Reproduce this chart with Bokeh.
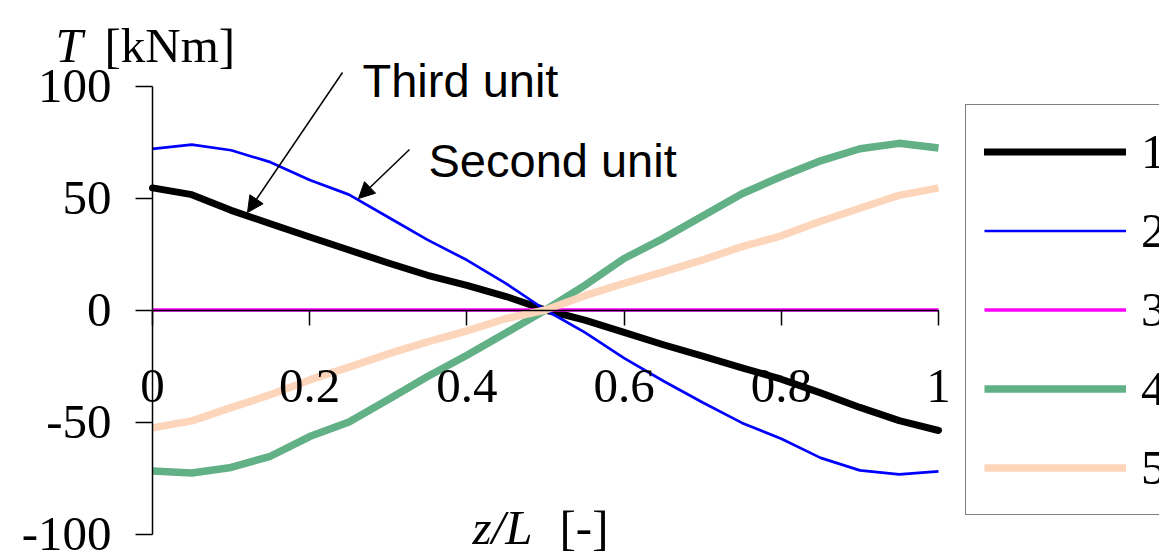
from bokeh.plotting import figure
from bokeh.models import (Range1d, FixedTicker, Legend, LegendItem, Label,
                          Arrow, NormalHead)
from bokeh.embed import file_html
from bokeh.resources import INLINE

# Torque distribution along the member, five load cases
z_over_L = [0.00, 0.05, 0.10, 0.15, 0.20, 0.25, 0.30, 0.35, 0.40, 0.45, 0.50,
            0.55, 0.60, 0.65, 0.70, 0.75, 0.80, 0.85, 0.90, 0.95, 1.00]

case_1 = [54.5, 51.5, 44.5, 38.5, 32.6, 26.8, 21.0, 15.5, 11.0, 6.0, 0.0,
          -4.5, -10.0, -15.5, -20.6, -25.8, -30.9, -37.0, -43.5, -49.4, -53.8]
case_2 = [71.9, 73.8, 71.3, 66.0, 58.0, 51.5, 41.4, 31.3, 22.3, 11.8, 0.0,
          -10.0, -21.5, -31.7, -41.3, -50.4, -57.5, -66.0, -71.6, -73.4, -72.0]
case_3 = [0.0] * 21
case_4 = [-71.9, -72.8, -70.3, -65.3, -56.5, -50.0, -40.0, -29.7, -20.2, -10.2, 0.0,
          11.0, 23.0, 32.0, 42.0, 51.9, 59.6, 66.6, 72.0, 74.4, 72.3]
case_5 = [-52.6, -49.5, -43.6, -37.8, -31.2, -25.5, -19.6, -14.2, -9.3, -3.8, 0.0,
          6.4, 11.9, 17.0, 22.4, 28.3, 33.1, 39.6, 45.4, 51.2, 54.5]

case_labels = ["1", "2", "3", "4", "5"]

x_ticks = [0.0, 0.2, 0.4, 0.6, 0.8, 1.0]
x_tick_labels = ["0", "0.2", "0.4", "0.6", "0.8", "1"]
y_ticks = [-100, -50, 0, 50, 100]
y_tick_labels = ["-100", "-50", "0", "50", "100"]

# ---- canvas geometry (pixels) ----
W, H = 1159, 552
ORIGIN_X = 152.0      # pixel column of z/L = 0
PX_PER_X = 786.0      # pixels per unit of z/L
ORIGIN_Y = 309.5      # pixel row of T = 0
PX_PER_Y = 2.24       # pixels per kNm


def dx(px):
    return (px - ORIGIN_X) / PX_PER_X


def dy(py):
    return (ORIGIN_Y - py) / PX_PER_Y


SERIF = "Liberation Serif"
SANS = "Liberation Sans"

p = figure(width=W, height=H, output_backend="svg", toolbar_location=None,
           x_range=Range1d(dx(0), dx(W)), y_range=Range1d(dy(H), dy(0)),
           min_border=0)
p.outline_line_color = None
p.background_fill_color = "white"
p.border_fill_color = "white"
p.xgrid.visible = False
p.ygrid.visible = False

# axes crossing at the origin
xa = p.xaxis[0]
xa.fixed_location = 0
xa.bounds = (0, 1)
xa.ticker = FixedTicker(ticks=x_ticks)
xa.major_label_overrides = dict(zip(x_ticks, x_tick_labels))
xa.major_tick_in = 0
xa.major_tick_out = 15
xa.minor_tick_line_color = None
xa.major_label_standoff = 45
xa.axis_line_width = 1.5
xa.major_tick_line_width = 1.5
xa.axis_line_color = "black"
xa.major_tick_line_color = "black"
xa.major_label_text_font = SERIF
xa.major_label_text_font_size = "49px"
xa.major_label_text_color = "black"

ya = p.yaxis[0]
ya.fixed_location = 0
ya.bounds = (-100, 100)
ya.ticker = FixedTicker(ticks=y_ticks)
ya.major_label_overrides = dict(zip(y_ticks, y_tick_labels))
ya.major_tick_in = 0
ya.major_tick_out = 17
ya.minor_tick_line_color = None
ya.major_label_standoff = 24
ya.axis_line_width = 1.5
ya.major_tick_line_width = 1.5
ya.axis_line_color = "black"
ya.major_tick_line_color = "black"
ya.major_label_text_font = SERIF
ya.major_label_text_font_size = "49px"
ya.major_label_text_color = "black"

# ---- curves ----
r1 = p.line(z_over_L, case_1, line_color="black", line_width=7, line_cap="round",
            line_join="round")
r2 = p.line(z_over_L, case_2, line_color="#0000FF", line_width=2.7)
r3 = p.line(z_over_L, case_3, line_color="#FF00FF", line_width=3.5)
r4 = p.line(z_over_L, case_4, line_color="#62B086", line_width=7.5)
r5 = p.line(z_over_L, case_5, line_color="#FDD5BA", line_width=7.5)

legend = Legend(items=[LegendItem(label=lab, renderers=[r])
                       for lab, r in zip(case_labels, [r1, r2, r3, r4, r5])],
                location=(965, 37), orientation="vertical",
                glyph_width=142, glyph_height=55, label_height=55,
                label_standoff=15, spacing=22, padding=18, margin=0,
                label_text_font=SERIF, label_text_font_size="49px",
                label_text_color="black",
                border_line_color="black", border_line_width=1.5,
                background_fill_color="white", background_fill_alpha=1.0)
p.add_layout(legend)

# ---- axis titles ----
p.add_layout(Label(x=dx(55), y=dy(45), text="T", text_font=SERIF,
                   text_font_style="italic", text_font_size="49px",
                   text_baseline="alphabetic", text_color="black"))
p.add_layout(Label(x=dx(104), y=dy(45), text="[kNm]", text_font=SERIF,
                   text_font_size="49px", text_baseline="alphabetic",
                   text_color="black"))
p.add_layout(Label(x=dx(472), y=dy(527), text="z/L", text_font=SERIF,
                   text_font_style="italic", text_font_size="49px",
                   text_baseline="alphabetic", text_color="black"))
p.add_layout(Label(x=dx(559), y=dy(527), text="[-]", text_font=SERIF,
                   text_font_size="49px", text_baseline="alphabetic",
                   text_color="black"))

# ---- callouts ----
p.add_layout(Label(x=dx(362), y=dy(80), text="Third unit", text_font=SANS,
                   text_font_size="47px", text_baseline="alphabetic",
                   text_color="black"))
p.add_layout(Label(x=dx(428), y=dy(160), text="Second unit", text_font=SANS,
                   text_font_size="47px", text_baseline="alphabetic",
                   text_color="black"))

head_kw = dict(size=16, fill_color="black", line_color="black")
p.add_layout(Arrow(end=NormalHead(**head_kw), x_start=dx(342), y_start=dy(72),
                   x_end=dx(247), y_end=dy(212), line_width=1.5,
                   line_color="black"))
p.add_layout(Arrow(end=NormalHead(**head_kw), x_start=dx(409), y_start=dy(149),
                   x_end=dx(358), y_end=dy(198), line_width=1.5,
                   line_color="black"))

open("out.html", "w").write(file_html(p, INLINE))
